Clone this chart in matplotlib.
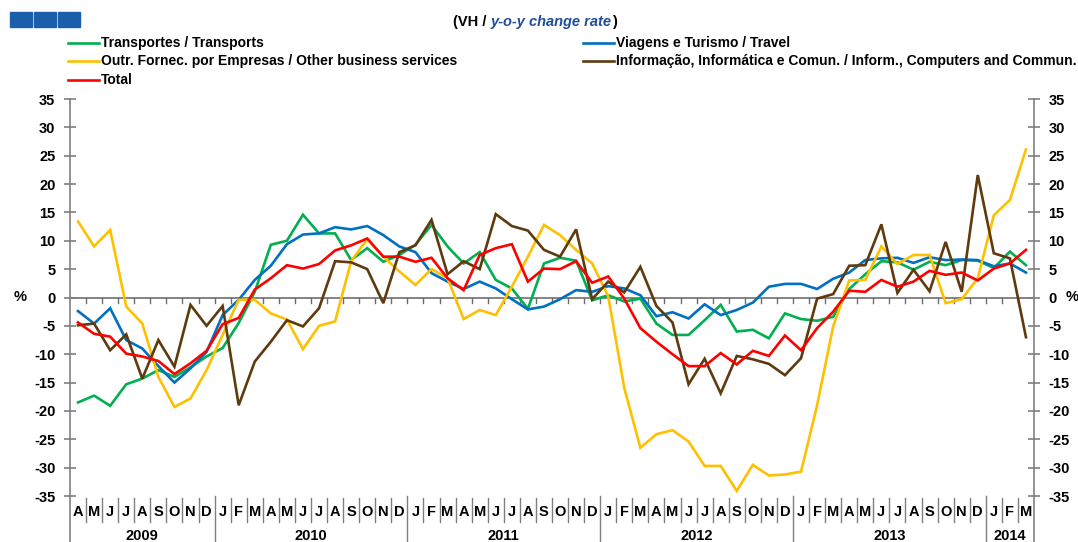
import matplotlib
matplotlib.use("Agg")
import matplotlib.pyplot as plt
import matplotlib.transforms as mtransforms
from matplotlib.patches import Rectangle
from matplotlib.lines import Line2D

plt.rcParams['font.family'] = ['Liberation Sans', 'DejaVu Sans']
plt.rcParams['axes.unicode_minus'] = False

# Data (y-o-y change rate, %), April 2009 .. March 2014
months = ["A", "M", "J", "J", "A", "S", "O", "N", "D"] + \
         ["J", "F", "M", "A", "M", "J", "J", "A", "S", "O", "N", "D"] * 4 + \
         ["J", "F", "M"]
years = ["2009", "2010", "2011", "2012", "2013", "2014"]
months_per_year = [9, 12, 12, 12, 12, 3]

transports = [-18.5, -17.3, -19.1, -15.3, -14.3, -12.8, -14.0, -12.3, -10.4,
              -8.9, -4.5, 1.0, 9.3, 10.0, 14.6, 11.3, 11.3, 6.6, 8.7, 6.3, 7.5,
              9.3, 12.8, 9.0, 6.0, 8.0, 3.1, 1.6, -2.0, 6.0, 7.0, 6.5, -0.5,
              0.4, -0.7, -0.2, -4.6, -6.6, -6.6, -4.0, -1.3, -6.0, -5.7, -7.2, -2.8,
              -3.8, -4.1, -3.4, 1.5, 4.1, 6.4, 6.2, 4.9, 6.3, 5.7, 6.6, 6.5,
              5.2, 8.1, 5.7]
travel = [-2.4, -4.6, -1.9, -7.5, -9.0, -12.1, -15.0, -12.5, -9.6,
          -3.1, -0.4, 3.1, 5.6, 9.4, 11.1, 11.3, 12.4, 12.0, 12.6, 11.0, 9.0,
          8.0, 4.3, 2.8, 1.5, 2.8, 1.6, -0.3, -2.1, -1.6, -0.3, 1.3, 1.0,
          2.0, 1.6, 0.4, -3.3, -2.6, -3.7, -1.2, -3.1, -2.2, -0.9, 1.9, 2.4,
          2.4, 1.5, 3.3, 4.4, 6.6, 6.9, 7.0, 6.1, 7.1, 6.6, 6.7, 6.6,
          5.5, 6.0, 4.4]
other_business = [13.4, 9.0, 11.9, -1.6, -4.6, -14.0, -19.3, -17.8, -12.8,
                  -6.6, -0.4, -0.4, -2.8, -3.9, -9.1, -5.0, -4.2, 6.4, 10.3, 7.2, 4.6,
                  2.2, 5.0, 3.4, -3.8, -2.2, -3.1, 1.9, 7.2, 12.8, 11.0, 8.4, 6.0,
                  0.2, -16.0, -26.5, -24.1, -23.4, -25.4, -29.7, -29.7, -34.1, -29.5, -31.4, -31.2,
                  -30.7, -19.0, -5.1, 3.0, 3.1, 9.0, 5.9, 7.5, 7.5, -1.0, -0.3, 3.4,
                  14.5, 17.2, 26.1]
information = [-4.9, -4.6, -9.3, -6.5, -14.3, -7.5, -12.2, -1.3, -5.0,
               -1.5, -19.0, -11.3, -7.8, -4.0, -5.1, -1.9, 6.4, 6.2, 5.0, -1.0, 8.0,
               9.2, 13.7, 4.1, 6.4, 5.0, 14.7, 12.6, 11.8, 8.4, 7.2, 12.0, -0.3,
               2.8, 0.9, 5.4, -1.5, -4.4, -15.3, -10.8, -16.9, -10.3, -10.9, -11.7, -13.7,
               -10.7, -0.2, 0.6, 5.6, 5.7, 12.9, 0.8, 4.9, 1.1, 9.8, 1.0, 21.6,
               7.8, 6.9, -7.0]
total = [-4.4, -6.4, -6.9, -9.9, -10.4, -11.2, -13.5, -11.6, -9.4,
         -4.7, -3.6, 1.4, 3.4, 5.7, 5.1, 5.9, 8.3, 9.2, 10.4, 7.2, 7.2,
         6.3, 7.0, 3.4, 1.3, 7.5, 8.7, 9.4, 2.8, 5.1, 5.0, 6.4, 2.6,
         3.7, -0.2, -5.4, -7.8, -10.0, -12.1, -12.1, -9.8, -11.8, -9.4, -10.3, -6.7,
         -9.3, -5.4, -2.5, 1.2, 1.0, 3.1, 1.9, 2.8, 4.7, 4.0, 4.4, 3.0,
         5.1, 6.0, 8.4]

series = [
    ("Transportes / Transports", transports, "#00B050"),
    ("Viagens e Turismo / Travel", travel, "#0070C0"),
    ("Outr. Fornec. por Empresas / Other business services", other_business, "#FFC000"),
    ("Informação, Informática e Comun. / Inform., Computers and Commun.", information, "#5E3A0E"),
    ("Total", total, "#FF0000"),
]

W, H = 1078, 542
fig = plt.figure(figsize=(W / 100, H / 100), dpi=100)
ax = fig.add_axes([70 / W, 1 - 496 / H, (1034 - 70) / W, (496 - 99) / H])

x = list(range(len(months)))
for name, vals, col in series:
    ax.plot(x, vals, color=col, lw=1.9, solid_joinstyle='miter')

ax.set_xlim(-0.5, len(months) - 0.5)
ax.set_ylim(-35, 35)
ax.axhline(0, color="#6E6E6E", lw=1.2, zorder=1)

for s in ["top", "bottom"]:
    ax.spines[s].set_visible(False)
for s in ["left", "right"]:
    ax.spines[s].set_color("#7F7F7F")
    ax.spines[s].set_linewidth(1.2)

ax.set_yticks(range(-35, 36, 5))
ax.tick_params(axis="y", direction="inout", length=9, width=1.2, color="#7F7F7F",
               labelsize=10.5, left=True, right=True, labelleft=True, labelright=True, pad=6)
for lab in ax.get_yticklabels():
    lab.set_fontweight("bold")
ax.set_xticks([])

# small ticks on the zero line between months
trans = mtransforms.blended_transform_factory(ax.transData, ax.transAxes)
for i in range(1, len(months)):
    ax.plot([i - 0.5, i - 0.5], [-0.1, -1.0], color="#6E6E6E", lw=1.0, zorder=1)

# month labels and separators below the plot
year_starts = []
acc = 0
for n in months_per_year:
    year_starts.append(acc)
    acc += n
for i, m in enumerate(months):
    ax.text(i, -0.04, m, transform=trans, ha="center", va="center",
            fontsize=10.5, fontweight="bold")
    if i > 0 and i not in year_starts:
        ax.plot([i - 0.5, i - 0.5], [-0.005, -0.065], transform=trans,
                color="#7F7F7F", lw=1.0, clip_on=False)
for k, st in enumerate(year_starts):
    if k > 0:
        ax.plot([st - 0.5, st - 0.5], [0, -0.12], transform=trans,
                color="#7F7F7F", lw=1.0, clip_on=False)
    center = st + (months_per_year[k] - 1) / 2
    ax.text(center, -0.1, years[k], transform=trans, ha="center", va="center",
            fontsize=10.5, fontweight="bold")
for xa in [0, 1]:
    ax.plot([xa, xa], [0, -0.12], transform=ax.transAxes, color="#7F7F7F",
            lw=1.2, clip_on=False)

fig.text(20 / W, 1 - 297 / H, "%", ha="center", va="center", fontsize=10.5, fontweight="bold")
fig.text(1066 / W, 1 - 297 / H, "%", ha="left", va="center", fontsize=10.5, fontweight="bold")

# legend, drawn by hand in two columns
legend_pos = [(68, 43), (583, 43), (68, 61), (583, 61), (68, 80)]
for (name, vals, col), (lx, ly) in zip(series, legend_pos):
    fig.add_artist(Line2D([lx / W, (lx + 31) / W], [1 - ly / H, 1 - ly / H],
                          color=col, lw=1.9))
    fig.text((lx + 33) / W, 1 - ly / H, name, ha="left", va="center",
             fontsize=10, fontweight="bold")

# header: blue squares and subtitle
for sx in [10, 34, 58]:
    fig.add_artist(Rectangle((sx / W, 1 - 27 / H), 22 / W, 15 / H,
                             color="#1B5FAA", transform=fig.transFigure))

fig.canvas.draw()
renderer = fig.canvas.get_renderer()
parts = [("(VH / ", "black", "normal"), ("y-o-y change rate", "#1F4E9A", "italic"), (")", "black", "normal")]
cx = 453
for txt, col, style in parts:
    t = fig.text(cx / W, 1 - 22 / H, txt, ha="left", va="center", fontsize=10.5,
                 fontweight="bold", style=style, color=col)
    cx += t.get_window_extent(renderer).width

fig.savefig("out.png", dpi=100, facecolor="white")
